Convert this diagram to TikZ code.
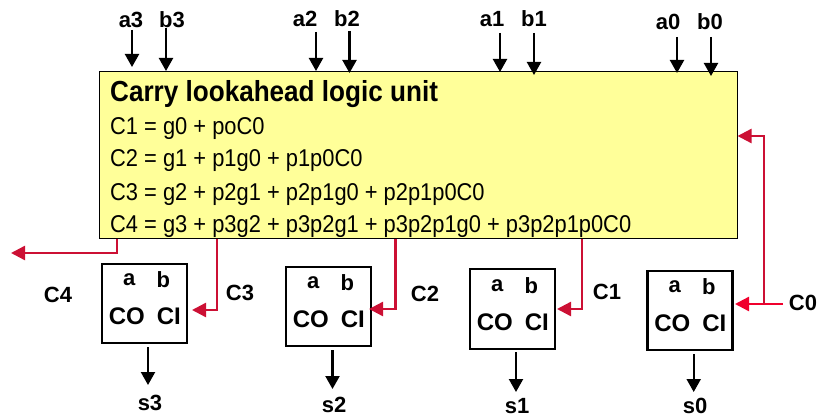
\documentclass[tikz,border=0pt]{standalone}
\usepackage{fontspec}
\setmainfont{Liberation Sans}
\newfontfamily\narrowfont[FakeStretch=0.9]{Liberation Sans}
\usetikzlibrary{arrows.meta,calc}
\definecolor{crim}{RGB}{204,16,52}
\definecolor{brightred}{RGB}{240,0,45}
\tikzset{
  x=1pt,y=-1pt,
  lbl/.style={font=\bfseries\fontsize{22}{24}\selectfont,inner sep=0pt,text=black},
  big/.style={font=\bfseries\fontsize{24}{26}\selectfont},
  eqn/.style={anchor=base west,font=\narrowfont\fontsize{24.3}{26}\selectfont,inner sep=0pt},
  titl/.style={anchor=base west,font=\narrowfont\bfseries\fontsize{29}{32}\selectfont,inner sep=0pt},
  adder/.style={draw=black,line width=2.4pt,fill=white,minimum width=85pt,minimum height=79.5pt,inner sep=0pt},
  bk/.style={-{Triangle[length=13pt,width=14pt]},line width=2.2pt,black},
  rd/.style={-{Triangle[length=14pt,width=14pt]},line width=2.4pt,crim},
  rb/.style={-{Triangle[length=14pt,width=14pt]},line width=2.4pt,brightred},
}
\begin{document}
\begin{tikzpicture}
\useasboundingbox (0,0) rectangle (819,417);
\node[draw=black,line width=1pt,fill={rgb,255:red,255;green,255;blue,153},minimum width=638pt,minimum height=166pt,inner sep=0pt] (main) at (418,155) {};
\node[titl] (title) at (110,102) {Carry lookahead logic unit};
\node[eqn] (e1) at (110,135) {C1 = g0 + poC0};
\node[eqn] (e2) at (110,167) {C2 = g1 + p1g0 + p1p0C0};
\node[eqn] (e3) at (110,200) {C3 = g2 + p2g1 + p2p1g0 + p2p1p0C0};
\node[eqn] (e4) at (110,232) {C4 = g3 + p3g2 + p3p2g1 + p3p2p1g0 + p3p2p1p0C0};
% adders
\node[adder] (A3) at (144.5,303.5) {};
\node[adder] (A2) at (328.5,306.5) {};
\node[adder] (A1) at (512.5,309) {};
\node[adder] (A0) at (690,310.5) {};
\foreach \n in {3,2,1,0}{
  \node[lbl] (a\n in) at ($(A\n.north west)+(28.5,17.5)$) {a};
  \node[lbl] (b\n in) at ($(A\n.north west)+(62.5,17.5)$) {b};
  \node[lbl,big] (co\n) at ($(A\n.north west)+(26,54)$) {CO};
  \node[lbl,big] (ci\n) at ($(A\n.north west)+(68,54)$) {CI};
}
% top labels
\node[lbl] (la3) at (131,20) {a3};
\node[lbl] (lb3) at (172,20) {b3};
\node[lbl] (la2) at (305,19) {a2};
\node[lbl] (lb2) at (347,19) {b2};
\node[lbl] (la1) at (492,19) {a1};
\node[lbl] (lb1) at (534,19) {b1};
\node[lbl] (la0) at (668,22) {a0};
\node[lbl] (lb0) at (710,22) {b0};
% other labels
\node[lbl] (C4) at (58,295) {C4};
\node[lbl] (C3) at (240,293) {C3};
\node[lbl] (C2) at (425,294) {C2};
\node[lbl] (C1) at (607,292) {C1};
\node[lbl] (C0) at (803,303) {C0};
\node[lbl] (s3) at (150,403) {s3};
\node[lbl] (s2) at (334,405) {s2};
\node[lbl] (s1) at (517,406) {s1};
\node[lbl] (s0) at (695,406) {s0};
% free ends
\coordinate (ta3) at (132,30); \coordinate (ha3) at (132,67);
\coordinate (tb3) at (166,28); \coordinate (hb3) at (166,71);
\coordinate (ta2) at (316,32); \coordinate (ha2) at (316,71);
\coordinate (tb2) at (349.5,31); \coordinate (hb2) at (349.5,73);
\coordinate (ta1) at (500,33); \coordinate (ha1) at (500,72);
\coordinate (tb1) at (534,33); \coordinate (hb1) at (534,75);
\coordinate (ta0) at (677,37); \coordinate (ha0) at (677,73);
\coordinate (tb0) at (711,37); \coordinate (hb0) at (711,76);
\foreach \p in {a3,b3,a2,b2,a1,b1,a0,b0}{ \draw[bk] (t\p) -- (h\p); }
\coordinate (o3) at (148,347); \coordinate (e3end) at (148,385);
\coordinate (o2) at (332.5,350); \coordinate (e2end) at (332.5,389);
\coordinate (o1) at (516,352); \coordinate (e1end) at (516,392);
\coordinate (o0) at (693.7,354); \coordinate (e0end) at (693.7,392);
\foreach \n in {3,2,1,0}{ \draw[bk] (o\n) -- (e\n end); }
% red connectors
\coordinate (c4out) at (11,253);
\draw[rd] (main.south -| 117,0) -- (117,253) -- (c4out);
\draw[rd] (main.south -| 217,0) -- (217,310) -- (192,310);
\draw[rd] (main.south -| 395.5,0) -- (395.5,309) -- (369,309);
\draw[rd] (main.south -| 582,0) -- (582,309) -- (557,309);
\coordinate (c0in) at (783,304);
\coordinate (junc) at (764,304);
\draw[rb] (c0in) -- (735,304);
\draw[rd] (junc) -- (764,136) -- (737.5,136);
\end{tikzpicture}
\end{document}
